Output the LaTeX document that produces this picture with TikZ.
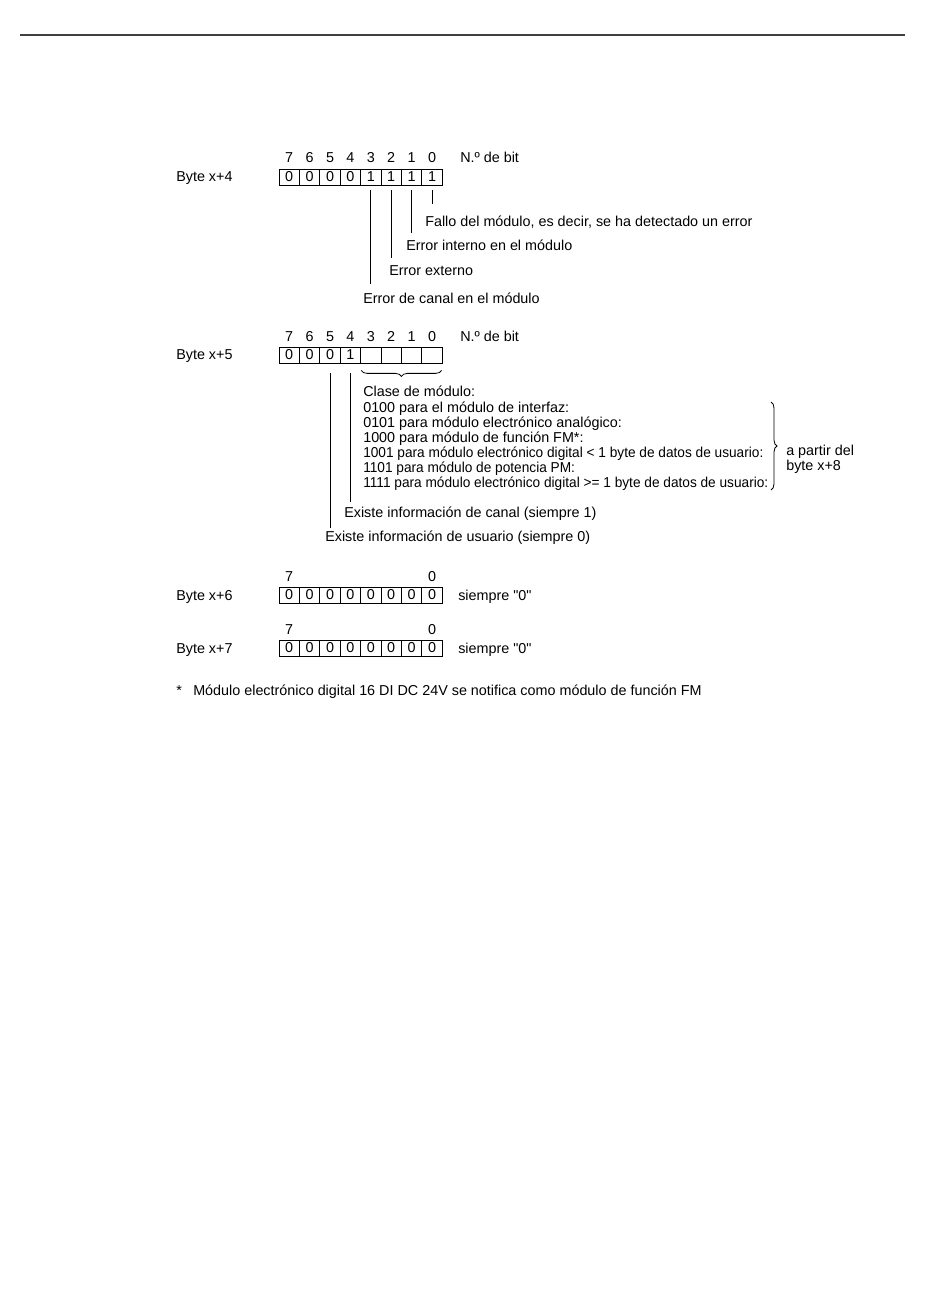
\documentclass[tikz,border=0pt]{standalone}
\usepackage{fontspec}
\setmainfont{Liberation Sans}[Ligatures=TeXOff]
\usetikzlibrary{decorations.pathreplacing}
\newcommand\fsz{\fontsize{10.77pt}{11.25pt}\selectfont}
\newcommand\cnd[1]{\scalebox{0.952}[1]{#1}}
\begin{document}
\begin{tikzpicture}[x=0.75pt,y=-0.75pt,
  txt/.style={anchor=base west, inner sep=0pt, font=\fsz},
  bitnum/.style={anchor=base, inner sep=0pt, font=\fsz},
  cell/.style={draw, line width=0.6pt, minimum width=15.3pt, minimum height=12pt, inner sep=0pt, font=\fsz, anchor=center},
  conn/.style={line width=0.6pt},
  bracestyle/.style={decorate, line width=0.6pt},
]
\useasboundingbox (0,0) rectangle (950,1301);
% top rule
\coordinate (rl) at (20,35);
\coordinate (rr) at (905,35);
\draw[line width=1.1pt, black!75] (rl) -- (rr);

% ---------- Byte x+4
\foreach \b/\v [count=\i from 0] in {7/0,6/0,5/0,4/0,3/1,2/1,1/1,0/1} {
  \node[cell] (x4b\b) at ({289.2+20.4*\i},177) {\v};
  \node[bitnum] (x4n\b) at ({289.2+20.4*\i},163) {\b};
}
\node[txt] (by4) at (176,182) {Byte x+4};
\node[txt] (nb4) at (460,163) {N.º de bit};
\draw[conn] (x4b0.south) ++(0,5) -- ++(0,14);
\draw[conn] (x4b1.south) ++(0,5) -- ++(0,43);
\draw[conn] (x4b2.south) ++(0,5) -- ++(0,68);
\draw[conn] (x4b3.south) ++(0,5) -- ++(0,94);
\node[txt] (t40) at (425,227) {Fallo del módulo, es decir, se ha detectado un error};
\node[txt] (t41) at (406,251) {Error interno en el módulo};
\node[txt] (t42) at (389,276) {Error externo};
\node[txt] (t43) at (363,304) {Error de canal en el módulo};

% ---------- Byte x+5
\foreach \b/\v [count=\i from 0] in {7/0,6/0,5/0,4/1,3/{},2/{},1/{},0/{}} {
  \node[cell] (x5b\b) at ({289.2+20.4*\i},355) {\v};
  \node[bitnum] (x5n\b) at ({289.2+20.4*\i},342) {\b};
}
\node[txt] (by5) at (176,360) {Byte x+5};
\node[txt] (nb5) at (460,342) {N.º de bit};
\draw[bracestyle, decoration={brace, mirror, amplitude=4.5pt}] ([shift={(1,7)}]x5b3.south west) -- ([shift={(-1,7)}]x5b0.south east);
\draw[conn] (x5b4.south) ++(0,10) -- ++(0,129);
\draw[conn] (x5b5.south) ++(0,10) -- ++(0,155);
\node[txt] (c0) at (363,397) {Clase de módulo:};
\node[txt] (c1) at (363,412) {0100 para el módulo de interfaz:};
\node[txt] (c2) at (363,427) {0101 para módulo electrónico analógico:};
\node[txt] (c3) at (363,442) {1000 para módulo de función FM*:};
\node[txt] (c4) at (363,457) {\cnd{1001 para módulo electrónico digital < 1 byte de datos de usuario:}};
\node[txt] (c5) at (363,472) {\cnd{1101 para módulo de potencia PM:}};
\node[txt] (c6) at (363,487) {\cnd{1111 para módulo electrónico digital >= 1 byte de datos de usuario:}};
\coordinate (rb1) at (771,402);
\coordinate (rb2) at (771,490);
\draw[bracestyle, decoration={brace, amplitude=4.5pt}] (rb1) -- (rb2);
\node[txt] (ap1) at (786,455) {a partir del};
\node[txt] (ap2) at (786,470) {byte x+8};
\node[txt] (ex1) at (344,517) {Existe información de canal (siempre 1)};
\node[txt] (ex2) at (325,541) {Existe información de usuario (siempre 0)};

% ---------- Byte x+6
\foreach \b [count=\i from 0] in {7,6,5,4,3,2,1,0} {
  \node[cell] (x6b\b) at ({289.2+20.4*\i},595) {0};
}
\node[bitnum] (x6n7) at (289.2,581) {7};
\node[bitnum] (x6n0) at (432.0,581) {0};
\node[txt] (by6) at (176,600) {Byte x+6};
\node[txt] (s6) at (458,600) {siempre "0"};

% ---------- Byte x+7
\foreach \b [count=\i from 0] in {7,6,5,4,3,2,1,0} {
  \node[cell] (x7b\b) at ({289.2+20.4*\i},648) {0};
}
\node[bitnum] (x7n7) at (289.2,634) {7};
\node[bitnum] (x7n0) at (432.0,634) {0};
\node[txt] (by7) at (176,653) {Byte x+7};
\node[txt] (s7) at (458,653) {siempre "0"};

% ---------- footnote
\node[txt] (fs) at (176,695) {*};
\node[txt] (fn) at (193,695) {Módulo electrónico digital 16 DI DC 24V se notifica como módulo de función FM};
\end{tikzpicture}
\end{document}
